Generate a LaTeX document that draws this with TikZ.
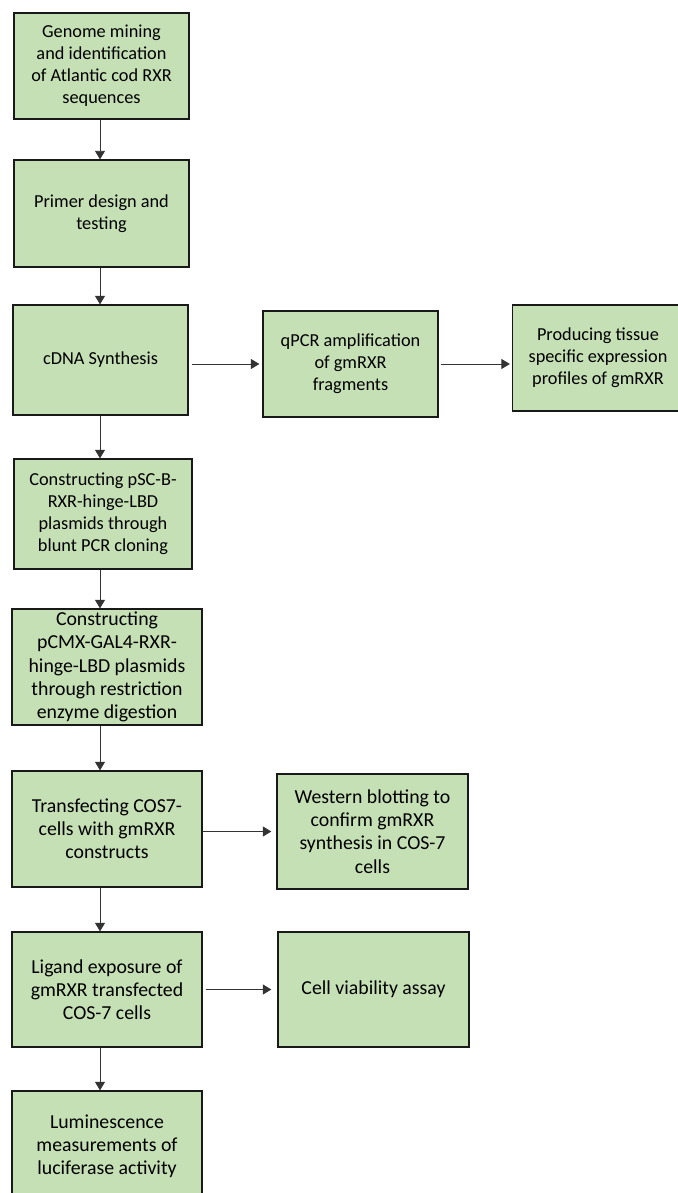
\documentclass[tikz,border=0pt]{standalone}
\usepackage{fontspec}
\setmainfont{Carlito}
\usetikzlibrary{positioning}
\usetikzlibrary{calc}
\usetikzlibrary{arrows.meta}
\definecolor{step green}{HTML}{C5E0B4}
\definecolor{arrow grey}{HTML}{333333}
\tikzset{
    % Filled triangle heads, as in the flow chart
    >={Triangle[length=8.5pt, width=10pt]},
%
    % Common look of every step of the work flow
    step box/.style={
        draw=black!90, line width=1.3pt, rectangle, fill=step green,
        align=center, inner sep=2pt, text=black},
%
    % Steps in the upper half are set a little smaller
    small step/.style={step box, font=\fontsize{18.3}{22}\selectfont},
    large step/.style={step box, font=\fontsize{19.8}{23.2}\selectfont},
%
    % Connectors between the steps
    flow/.style={->, draw=arrow grey, line width=0.9pt}}

\begin{document}
\begin{tikzpicture}[x=1pt, y=-1pt]

\useasboundingbox (0,0) rectangle (677,1193);

% Vertical line along which the main steps are joined
\coordinate (spine) at (100,0);

% Main chain of steps down the left side
\node[small step, minimum width=175pt, minimum height=106pt]
    (genome mining) at (101.5,66)
    {Genome mining\\and identification\\of Atlantic cod RXR\\sequences};

\node[small step, minimum width=175pt, minimum height=107pt]
    (primer design) at (101.5,213.5) {Primer design and\\testing};

\node[small step, minimum width=175pt, minimum height=110pt]
    (cdna synthesis) at (100.5,360) {cDNA Synthesis};

\node[small step, minimum width=178pt, minimum height=110pt]
    (blunt cloning) at (103,514)
    {Constructing pSC-B-\\RXR-hinge-LBD\\plasmids through\\blunt PCR cloning};

\node[large step, minimum width=190pt, minimum height=116pt]
    (restriction cloning) at (107,667)
    {Constructing\\pCMX-GAL4-RXR-\\hinge-LBD plasmids\\through restriction\\enzyme digestion};

\node[large step, minimum width=190pt, minimum height=116pt]
    (transfection) at (107,829)
    {Transfecting COS7-\\cells with gmRXR\\constructs};

\node[large step, minimum width=190pt, minimum height=115pt]
    (ligand exposure) at (107,989.5)
    {Ligand exposure of\\gmRXR transfected\\COS-7 cells};

\node[large step, minimum width=190pt, minimum height=110pt]
    (luminescence) at (107,1146)
    {Luminescence\\measurements of\\luciferase activity};

% Side branches
\node[small step, minimum width=175pt, minimum height=106pt]
    (qpcr) at (350.5,364) {qPCR amplification\\of gmRXR\\fragments};

\node[small step, minimum width=171pt, minimum height=106pt]
    (expression profiles) at (598,358)
    {Producing tissue\\specific expression\\profiles of gmRXR};

\node[large step, minimum width=191pt, minimum height=115pt]
    (western blot) at (372.5,831.5)
    {Western blotting to\\confirm gmRXR\\synthesis in COS-7\\cells};

\node[large step, minimum width=191pt, minimum height=115pt]
    (cell viability) at (373.5,989.5) {Cell viability assay};

% Down the spine
\draw[flow] (genome mining.south -| spine) -- (primer design.north -| spine);
\draw[flow] (primer design.south -| spine) -- (cdna synthesis.north -| spine);
\draw[flow] (cdna synthesis.south -| spine) -- (blunt cloning.north -| spine);
\draw[flow] (blunt cloning.south -| spine) -- (restriction cloning.north -| spine);
\draw[flow] (restriction cloning.south -| spine) -- (transfection.north -| spine);
\draw[flow] (transfection.south -| spine) -- (ligand exposure.north -| spine);
\draw[flow] (ligand exposure.south -| spine) -- (luminescence.north -| spine);

% Out to the branches
\draw[flow, shorten <=3pt, shorten >=3pt]
    (qpcr.west -| cdna synthesis.east) -- (qpcr.west);
\draw[flow, shorten <=2pt, shorten >=2pt]
    (qpcr.east) -- (qpcr.east -| expression profiles.west);
\draw[flow, shorten >=5pt]
    (western blot.west -| transfection.east) -- (western blot.west);
\draw[flow, shorten <=3pt, shorten >=6pt] (ligand exposure) -- (cell viability);

\end{tikzpicture}
\end{document}
